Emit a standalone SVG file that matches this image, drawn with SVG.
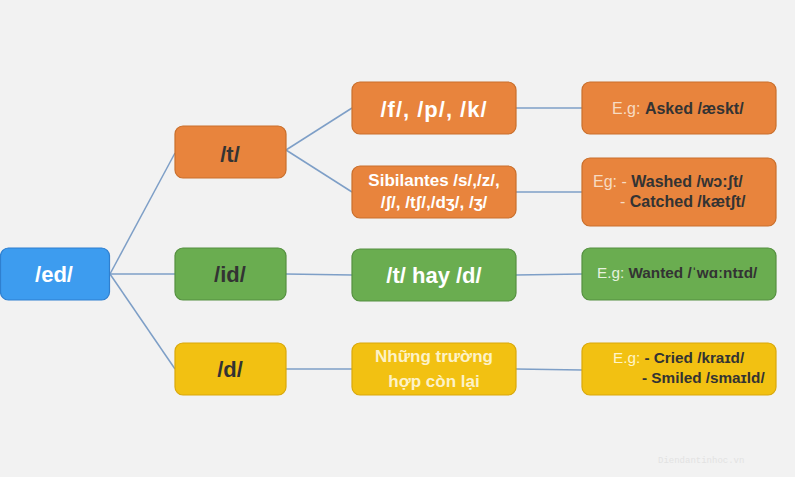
<svg xmlns="http://www.w3.org/2000/svg" width="795" height="477" viewBox="0 0 795 477">
<style>
.bg{fill:#f2f2f2}
.n{stroke-width:1.2}
.blue{fill:#3d9cef;stroke:#2f7fcf}
.org{fill:#e8843d;stroke:#c96f2c}
.grn{fill:#6aad50;stroke:#559040}
.yel{fill:#f2c112;stroke:#d9a80a}
text{font-family:"Liberation Sans","Noto Sans",Arial,sans-serif;font-weight:bold}
.big{font-size:22px;text-anchor:middle}
.mid{font-size:17px;text-anchor:middle}
.eg{font-size:16px}
.eg2{font-size:15.3px}
.w{fill:#ffffff}
.dk{fill:#333333}
.lo{fill:#f7dcc3;font-weight:normal}
.lg{fill:#e6f2de;font-weight:normal}
.ly{fill:#fff5c8;font-weight:normal}
.wm{font-family:"Liberation Mono",monospace;font-size:9px;font-weight:normal;fill:#e2e2e2}
.conn line{stroke:#7e9fc7;stroke-width:1.5}
</style>
<rect class="bg" x="0" y="0" width="795" height="477"/>
<g class="conn">
<line x1="110" y1="274" x2="175" y2="153"/>
<line x1="110" y1="274" x2="175" y2="274"/>
<line x1="110" y1="274" x2="175" y2="369"/>
<line x1="286" y1="150" x2="352" y2="108"/>
<line x1="286" y1="150" x2="352" y2="192"/>
<line x1="286" y1="274" x2="352" y2="275"/>
<line x1="286" y1="369" x2="352" y2="369"/>
<line x1="516" y1="108" x2="582" y2="108"/>
<line x1="516" y1="192" x2="582" y2="192"/>
<line x1="516" y1="275" x2="582" y2="274"/>
<line x1="516" y1="369" x2="582" y2="370"/>
</g>
<g id="ed"><rect class="n blue" x="0.5" y="248" width="109" height="52" rx="8"/><text class="big w" x="54" y="282">/ed/</text></g>
<g id="t"><rect class="n org" x="175" y="126" width="111" height="52" rx="8"/><text class="big dk" x="230" y="162">/t/</text></g>
<g id="id"><rect class="n grn" x="175" y="248" width="111" height="52" rx="8"/><text class="big dk" x="230" y="282">/id/</text></g>
<g id="d"><rect class="n yel" x="175" y="343" width="111" height="52" rx="8"/><text class="big dk" x="230" y="377">/d/</text></g>
<g id="fpk"><rect class="n org" x="352" y="82" width="164" height="52" rx="8"/><text class="big w" x="434" y="117" letter-spacing="1">/f/, /p/, /k/</text></g>
<g id="sib"><rect class="n org" x="352" y="166" width="164" height="52" rx="8"/><text class="mid w" x="434" y="186">Sibilantes /s/,/z/,</text><text class="mid w" x="434" y="208">/ʃ/, /tʃ/,/dʒ/, /ʒ/</text></g>
<g id="thayd"><rect class="n grn" x="352" y="249" width="164" height="52" rx="8"/><text class="big w" x="434" y="283">/t/ hay /d/</text></g>
<g id="nhung"><rect class="n yel" x="352" y="343" width="164" height="52" rx="8"/><text class="mid" fill="#fdf2c8" x="434" y="362">Những trường</text><text class="mid" fill="#fdf2c8" x="434" y="387">hợp còn lại</text></g>
<g id="asked"><rect class="n org" x="582" y="82" width="194" height="52" rx="8"/><text class="eg" x="612" y="114"><tspan class="lo">E.g: </tspan><tspan class="dk">Asked /æskt/</tspan></text></g>
<g id="washed"><rect class="n org" x="582" y="158" width="194" height="68" rx="8"/><text class="eg" x="593" y="187"><tspan class="lo">Eg: - </tspan><tspan class="dk">Washed /wɔ:ʃt/</tspan></text><text class="eg" x="620" y="207"><tspan class="lo">- </tspan><tspan class="dk">Catched /kætʃt/</tspan></text></g>
<g id="wanted"><rect class="n grn" x="582" y="248" width="194" height="52" rx="8"/><text class="eg2" x="597" y="278"><tspan class="lg">E.g: </tspan><tspan class="dk">Wanted /ˈwɑːntɪd/</tspan></text></g>
<g id="cried"><rect class="n yel" x="582" y="343" width="194" height="52" rx="8"/><text class="eg2" x="613" y="363"><tspan class="ly">E.g: </tspan><tspan class="dk">- Cried /kraɪd/</tspan></text><text class="eg2 dk" x="642" y="383">- Smiled /smaɪld/</text></g>
<text class="wm" x="658" y="463">Diendantinhoc.vn</text>
</svg>
